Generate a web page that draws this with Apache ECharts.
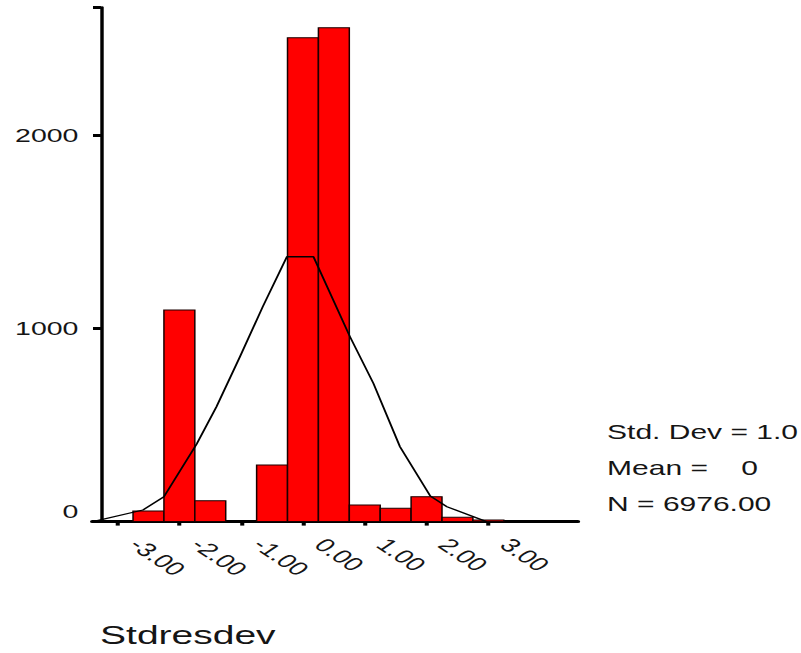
<!DOCTYPE html>
<html><head><meta charset="utf-8">
<script src="https://cdn.jsdelivr.net/npm/echarts@6/dist/echarts.min.js"></script>
<style>
html,body{margin:0;padding:0;background:#fff;overflow:hidden;}
#chart{width:534px;height:653px;transform:scaleX(1.5);transform-origin:0 0;}
</style></head><body><div id="chart"></div>
<script>
// Histogram bins (bin centre, count)
const binCenters = [-2.5, -2.0, -1.5, -1.0, -0.5, 0.0, 0.5, 1.0, 1.5, 2.0, 2.5, 3.0];
const binCounts  = [55, 1095, 108, 0, 293, 2503, 2555, 86, 69, 129, 22, 8];
const binWidth = 0.5;
// Normal curve as drawn
const curveX = [-3.40, -2.59, -2.25, -1.72, -1.40, -1.02, -0.65, -0.26, 0.17, 0.76, 1.14, 1.57, 2.06, 2.33, 2.97];
const curveY = [0, 60, 129, 401, 594, 853, 1112, 1370, 1370, 957, 715, 387, 132, 77, 0];
// Axis ticks
const xTickValues = [-3, -2, -1, 0, 1, 2, 3];
const xTickLabels = ['-3.00', '-2.00', '-1.00', '0.00', '1.00', '2.00', '3.00'];
const yTickLabels = ['0', '1000', '2000'];
const statsLines = ['Std. Dev = 1.0', 'Mean =    0', 'N = 6976.00'];
const xTitle = 'Stdresdev';

const FONT = 'Liberation Sans, Arial, sans-serif';
const TXT = '#151515';
const chart = echarts.init(document.getElementById('chart'), null, {renderer: 'svg'});
chart.setOption({
  backgroundColor: '#ffffff',
  animation: false,
  title: [
    {text: statsLines.join('\n'), left: 404.7, top: 414, padding: 0,
     textStyle: {fontFamily: FONT, fontSize: 20, fontWeight: 'normal', color: TXT, lineHeight: 36}},
    {text: xTitle, left: 66.7, top: 621.5, padding: 0,
     textStyle: {fontFamily: FONT, fontSize: 26, fontWeight: 'normal', color: TXT, lineHeight: 26}}
  ],
  grid: {left: 61.5, right: 148.7, top: 7.4, bottom: 131.4, containLabel: false, outerBoundsMode: 'none'},
  xAxis: {
    type: 'value', min: -3.41, max: 4.45,
    splitLine: {show: false},
    axisLine: {show: true, onZero: false, lineStyle: {color: '#000', width: 3}},
    axisTick: {show: true, length: 4, customValues: xTickValues, lineStyle: {color: '#000', width: 2.7}},
    axisLabel: {
      customValues: xTickValues, rotate: -45, margin: 8.7, padding: [0, 0, 0, 16],
      fontFamily: FONT, fontSize: 19, color: TXT,
      formatter: v => xTickLabels[xTickValues.indexOf(Math.round(v))]
    }
  },
  yAxis: {
    type: 'value', min: 0, max: 2660, interval: 1000, offset: -5.8,
    splitLine: {show: false},
    axisLine: {show: true, onZero: false, lineStyle: {color: '#000', width: 2.3}},
    axisTick: {show: true, length: 5.3, lineStyle: {color: '#000', width: 3}},
    axisLabel: {margin: 15, fontFamily: FONT, fontSize: 19, color: TXT,
      formatter: v => {
        const s = yTickLabels[Math.round(v / 1000)];
        return v === 0 ? '{z|' + s + '}' : s;
      },
      rich: {z: {fontFamily: FONT, fontSize: 19, color: TXT, padding: [0, 0, 20, 0]}}
    }
  },
  series: [
    {
      type: 'custom', z: 2,
      data: binCenters.map((c, i) => [c, binCounts[i]]),
      renderItem: (params, api) => {
        const c = api.value(0), v = api.value(1);
        if (!v) return null;
        const p0 = api.coord([c - binWidth / 2, v]);
        const p1 = api.coord([c + binWidth / 2, 0]);
        return {type: 'rect',
          shape: {x: p0[0], y: p0[1], width: p1[0] - p0[0], height: p1[1] - p0[1]},
          style: {fill: '#ff0000', stroke: '#1a0000', lineWidth: 1}};
      }
    },
    {
      type: 'line', z: 3, showSymbol: false, symbol: 'none',
      data: curveX.map((x, i) => [x, curveY[i]]),
      lineStyle: {color: '#000', width: 1.3}
    }
  ]
});
</script></body></html>
